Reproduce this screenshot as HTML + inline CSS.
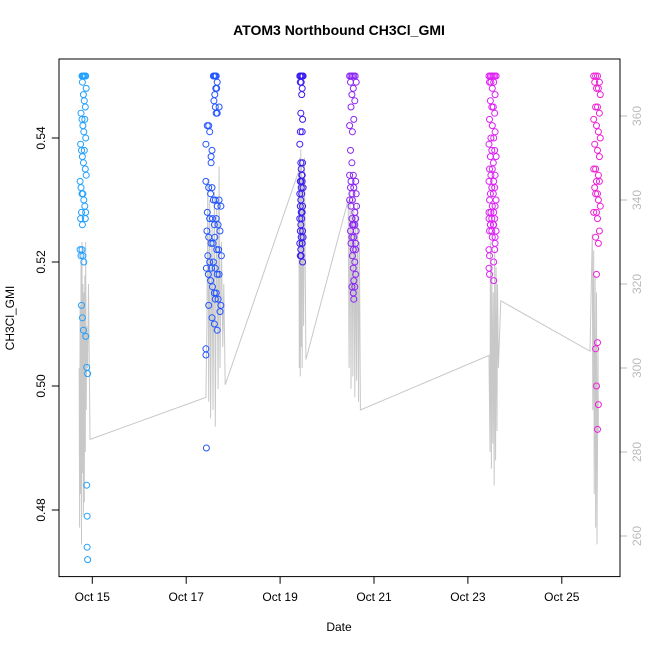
<!DOCTYPE html>
<html><head><meta charset="utf-8"><style>
html,body{margin:0;padding:0;background:#fff;}
svg{display:block;font-family:"Liberation Sans",Arial,sans-serif;}
</style></head><body>
<svg id="chart" width="650" height="650" viewBox="0 0 650 650" xmlns="http://www.w3.org/2000/svg">
<rect x="0" y="0" width="650" height="650" fill="#fff"/>
<text x="339" y="35" text-anchor="middle" font-size="14" font-weight="bold">ATOM3 Northbound CH3Cl_GMI</text>
<text x="339" y="631" text-anchor="middle" font-size="12">Date</text>
<text transform="translate(14,318) rotate(-90)" text-anchor="middle" font-size="12">CH3Cl_GMI</text>
<g id="lineLayer"></g>
<g id="pointLayer"></g>
<g id="axes"></g>
<rect x="59" y="59" width="561" height="517.6" fill="none" stroke="#000" stroke-width="1"/>
</svg>
<script>
const xTickDays=[15,17,19,21,23,25];
const xTickLabels=["Oct 15","Oct 17","Oct 19","Oct 21","Oct 23","Oct 25"];
const yTicks=[0.48,0.50,0.52,0.54];
const yTickLabels=["0.48","0.50","0.52","0.54"];
const y2Ticks=[260,280,300,320,340,360];
const y2TickLabels=["260","280","300","320","340","360"];
const clusterColors=["#22a0ff","#2255ff","#3a1cf0","#8c26f5","#dc22f5","#ee22d6"];

const c1Days=[14.78,14.80,14.82,14.84,14.86,14.79,14.81,14.83,14.85,14.87,14.76,14.78,14.80,14.82,14.84,14.86,14.75,14.77,14.79,14.81,14.83,14.85,14.87,14.74,14.76,14.78,14.80,14.82,14.84,14.86,14.75,14.77,14.79,14.85,14.74,14.76,14.78,14.80,14.82,14.77,14.79,14.81,14.86,14.88,14.90,14.88,14.89,14.89,14.90];
const c1Vals=[0.550,0.550,0.550,0.550,0.550,0.549,0.547,0.546,0.545,0.548,0.544,0.543,0.542,0.541,0.543,0.540,0.539,0.538,0.537,0.536,0.538,0.535,0.534,0.533,0.532,0.531,0.531,0.530,0.529,0.528,0.527,0.528,0.526,0.527,0.522,0.521,0.522,0.521,0.520,0.513,0.511,0.509,0.508,0.503,0.502,0.484,0.479,0.474,0.472];
const c2Days=[17.58,17.60,17.62,17.64,17.66,17.63,17.61,17.65,17.59,17.62,17.70,17.64,17.66,17.45,17.48,17.42,17.50,17.55,17.53,17.53,17.42,17.48,17.52,17.55,17.58,17.62,17.66,17.70,17.74,17.45,17.50,17.56,17.60,17.64,17.68,17.72,17.44,17.48,17.53,17.57,17.61,17.65,17.69,17.75,17.46,17.50,17.54,17.58,17.62,17.66,17.70,17.43,17.47,17.52,17.56,17.60,17.64,17.68,17.74,17.48,17.55,17.60,17.66,17.72,17.62,17.42,17.42,17.43];
const c2Vals=[0.550,0.550,0.550,0.550,0.549,0.548,0.547,0.548,0.546,0.545,0.545,0.544,0.544,0.542,0.542,0.539,0.541,0.538,0.537,0.536,0.533,0.532,0.531,0.532,0.530,0.530,0.529,0.530,0.529,0.528,0.527,0.527,0.526,0.527,0.526,0.525,0.525,0.524,0.523,0.523,0.524,0.522,0.522,0.521,0.521,0.520,0.519,0.520,0.519,0.518,0.518,0.519,0.518,0.517,0.516,0.515,0.515,0.514,0.513,0.513,0.511,0.510,0.509,0.512,0.514,0.506,0.505,0.490];
const c3Days=[19.42,19.44,19.46,19.48,19.43,19.45,19.47,19.49,19.46,19.44,19.48,19.43,19.47,19.42,19.44,19.48,19.45,19.46,19.44,19.47,19.43,19.45,19.47,19.49,19.42,19.44,19.46,19.48,19.43,19.45,19.47,19.42,19.44,19.46,19.48,19.43,19.45,19.47,19.49,19.42,19.44,19.47,19.43,19.45,19.48];
const c3Vals=[0.550,0.550,0.550,0.550,0.549,0.549,0.548,0.550,0.547,0.544,0.543,0.541,0.541,0.539,0.536,0.536,0.535,0.534,0.533,0.534,0.533,0.532,0.533,0.532,0.531,0.530,0.531,0.529,0.529,0.528,0.528,0.527,0.526,0.527,0.525,0.525,0.524,0.523,0.524,0.523,0.522,0.523,0.521,0.521,0.520];
const c4Days=[20.48,20.51,20.54,20.57,20.60,20.50,20.56,20.62,20.53,20.59,20.51,20.57,20.48,20.54,20.50,20.53,20.48,20.51,20.56,20.61,20.50,20.53,20.57,20.62,20.48,20.51,20.54,20.59,20.63,20.53,20.56,20.61,20.50,20.54,20.59,20.62,20.53,20.57,20.61,20.51,20.56,20.61,20.54,20.59,20.56,20.61,20.57,20.53,20.59,20.56,20.57];
const c4Vals=[0.550,0.550,0.550,0.550,0.550,0.549,0.548,0.549,0.547,0.546,0.545,0.543,0.542,0.541,0.538,0.536,0.534,0.533,0.534,0.533,0.532,0.531,0.532,0.531,0.530,0.529,0.530,0.528,0.529,0.527,0.526,0.527,0.525,0.526,0.526,0.525,0.524,0.524,0.523,0.523,0.522,0.522,0.521,0.520,0.519,0.518,0.517,0.516,0.516,0.515,0.514];
const c5Days=[23.45,23.48,23.51,23.54,23.57,23.60,23.46,23.49,23.52,23.55,23.58,23.48,23.51,23.54,23.57,23.46,23.52,23.58,23.49,23.55,23.45,23.51,23.57,23.48,23.54,23.60,23.46,23.52,23.58,23.49,23.55,23.45,23.51,23.57,23.48,23.54,23.60,23.46,23.52,23.58,23.49,23.55,23.45,23.51,23.57,23.48,23.54,23.60,23.46,23.52,23.58,23.45,23.48,23.51,23.55,23.58,23.45,23.46,23.57,23.55,23.45,23.46,23.55];
const c5Vals=[0.550,0.550,0.550,0.550,0.550,0.550,0.549,0.549,0.548,0.549,0.547,0.546,0.545,0.545,0.544,0.543,0.542,0.541,0.540,0.540,0.539,0.538,0.538,0.537,0.536,0.537,0.535,0.535,0.534,0.534,0.533,0.533,0.532,0.532,0.531,0.531,0.530,0.530,0.529,0.529,0.528,0.528,0.528,0.527,0.527,0.526,0.526,0.525,0.525,0.524,0.524,0.527,0.526,0.525,0.526,0.523,0.522,0.521,0.522,0.520,0.519,0.518,0.517];
const c6Days=[25.68,25.72,25.76,25.80,25.70,25.74,25.78,25.82,25.72,25.76,25.80,25.68,25.74,25.78,25.82,25.70,25.76,25.80,25.68,25.72,25.78,25.74,25.80,25.70,25.76,25.72,25.78,25.82,25.68,25.74,25.76,25.72,25.80,25.78,25.74,25.76,25.72,25.74,25.78,25.76];
const c6Vals=[0.550,0.550,0.550,0.549,0.549,0.548,0.548,0.547,0.545,0.545,0.544,0.543,0.542,0.541,0.540,0.539,0.538,0.537,0.535,0.535,0.534,0.533,0.533,0.532,0.531,0.531,0.530,0.529,0.528,0.528,0.527,0.524,0.525,0.523,0.518,0.507,0.506,0.500,0.497,0.493];

const lineDays=[14.72,14.73,14.74,14.75,14.76,14.77,14.78,14.79,14.80,14.81,14.82,14.83,14.84,14.85,14.86,14.87,14.88,14.90,14.92,14.95,
17.42,17.44,17.46,17.48,17.50,17.52,17.55,17.57,17.60,17.62,17.65,17.68,17.70,17.72,17.75,17.78,17.80,17.83,
19.40,19.41,19.42,19.43,19.44,19.45,19.46,19.47,19.48,19.50,19.52,19.55,
20.45,20.47,20.49,20.51,20.53,20.55,20.57,20.59,20.61,20.63,20.65,20.67,20.69,20.71,
23.45,23.47,23.48,23.50,23.51,23.53,23.54,23.56,23.57,23.59,23.60,23.62,23.63,23.65,23.70,
25.60,25.65,25.66,25.68,25.69,25.71,25.72,25.74,25.75,25.77,25.78];
const lineVals=[300,262,315,270,325,258,330,275,320,265,318,268,322,280,330,290,310,300,320,283,
293,310,345,292,340,288,335,290,342,286,338,295,348,300,330,305,320,296,
347,300,350,298,352,305,348,300,345,310,350,302,
340,300,342,295,338,298,341,293,336,297,339,292,330,290,
303,280,330,276,325,282,318,272,328,278,324,285,320,300,316,
304,332,290,328,270,322,262,318,258,305,285];

const X0=92.3, PXDAY=46.95;
function xs(d){return X0+(d-15)*PXDAY;}
function ys(v){return 386-(v-0.50)*6200;}
function ys2(v){return 368-(v-300)*4.2;}
const NS="http://www.w3.org/2000/svg";
function mk(tag,attrs,parent){const e=document.createElementNS(NS,tag);for(const k in attrs)e.setAttribute(k,attrs[k]);parent.appendChild(e);return e;}

const lineLayer=document.getElementById('lineLayer');
let pts=[];
for(let i=0;i<Math.min(lineDays.length,lineVals.length);i++)pts.push(xs(lineDays[i]).toFixed(1)+","+ys2(lineVals[i]).toFixed(1));
const pl=mk('polyline',{points:pts.join(" "),fill:"none",stroke:"#c8c8c8","stroke-width":"1"},lineLayer);



const pointLayer=document.getElementById('pointLayer');
const clusters=[[c1Days,c1Vals],[c2Days,c2Vals],[c3Days,c3Vals],[c4Days,c4Vals],[c5Days,c5Vals],[c6Days,c6Vals]];
clusters.forEach((c,ci)=>{
  const n=Math.min(c[0].length,c[1].length);
  for(let i=0;i<n;i++){
    const p=mk('circle',{cx:xs(c[0][i]).toFixed(1),cy:ys(c[1][i]).toFixed(1),r:"3",fill:"none",stroke:clusterColors[ci],"stroke-width":"1"},pointLayer);
    
    
  }
});

const axes=document.getElementById('axes');
xTickDays.forEach((d,i)=>{
  const x=xs(d);
  const t=mk('line',{x1:x,x2:x,y1:576.6,y2:583.8,stroke:"#000"},axes);
  
  
  const l=mk('text',{x:x,y:601,"text-anchor":"middle","font-size":"12"},axes);
  l.textContent=xTickLabels[i];
  
  
});
yTicks.forEach((v,i)=>{
  const y=ys(v);
  const t=mk('line',{x1:51.8,x2:59,y1:y,y2:y,stroke:"#000"},axes);
  
  
  const l=mk('text',{transform:"translate(45,"+y+") rotate(-90)","text-anchor":"middle","font-size":"12"},axes);
  l.textContent=yTickLabels[i];
  
  
});
y2Ticks.forEach((v,i)=>{
  const y=ys2(v);
  const t=mk('line',{x1:620,x2:627,y1:y,y2:y,stroke:"#bbb"},axes);
  
  
  const l=mk('text',{transform:"translate(641,"+y+") rotate(-90)","text-anchor":"middle","font-size":"12",fill:"#bbb"},axes);
  l.textContent=y2TickLabels[i];
  
  
});
</script>
</body></html>
